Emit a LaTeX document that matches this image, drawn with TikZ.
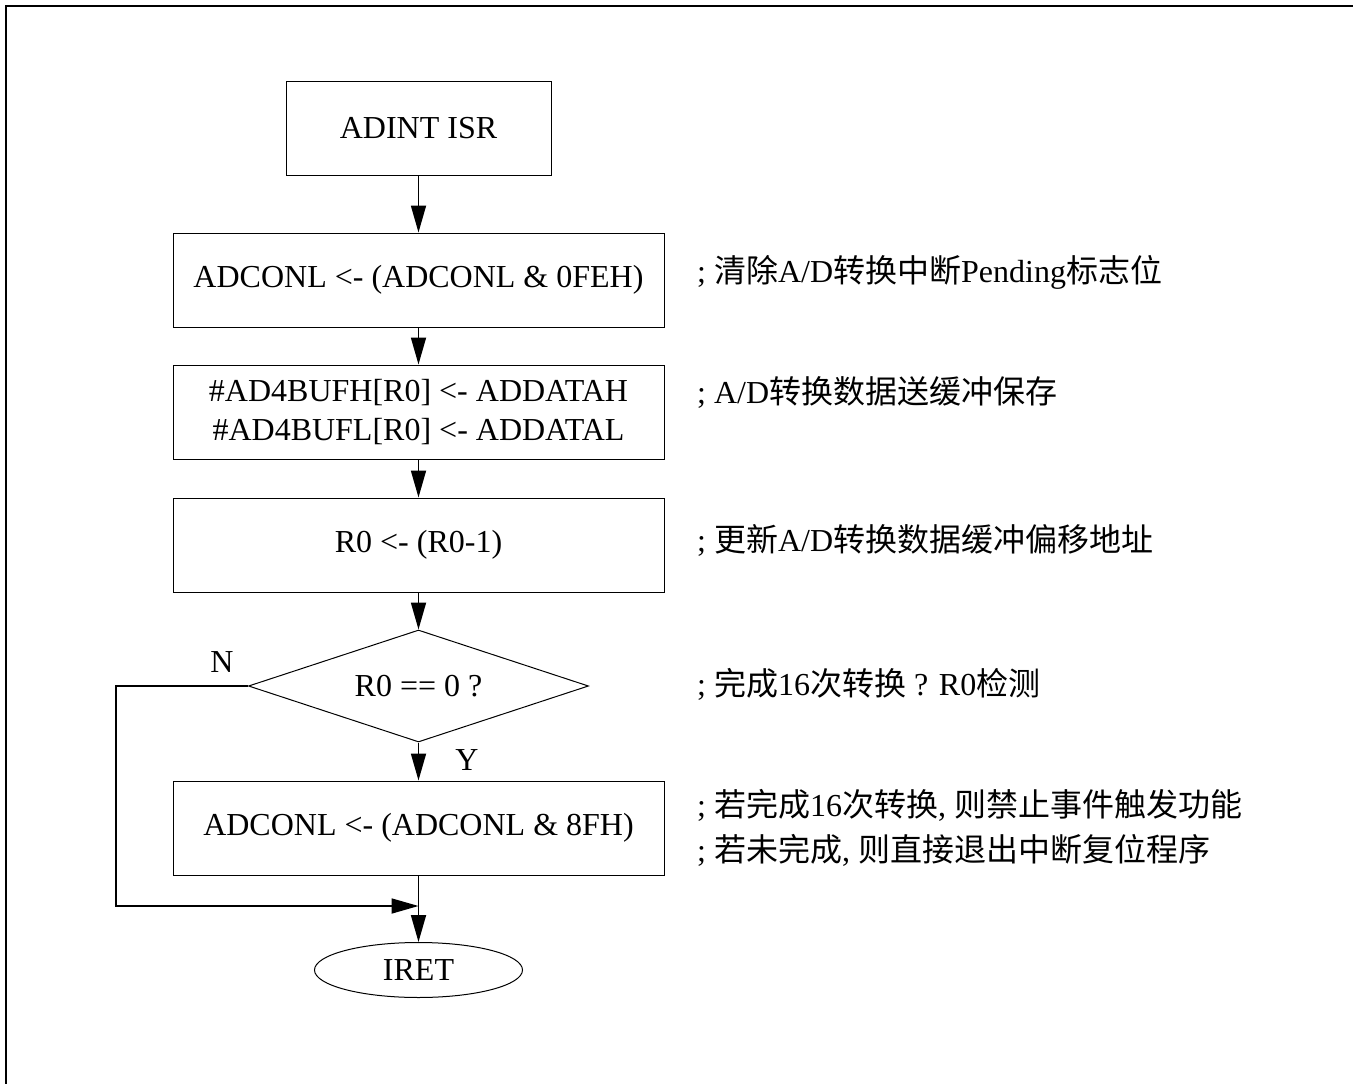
\documentclass[tikz,border=0pt]{standalone}
\usepackage{fontspec}
\setmainfont{Liberation Serif}
\newfontfamily\cjkfont{Noto Sans CJK SC}
\usepackage{tikz}
\usetikzlibrary{shapes.geometric,arrows.meta,positioning}
\newcommand{\zh}[1]{{\cjkfont #1}}
\tikzset{
    procbox/.style={draw, line width=1pt, minimum width=491pt, minimum height=94pt, inner sep=0pt, align=center},
    decbox/.style={draw, diamond, aspect=3, line width=1pt, minimum width=340pt, minimum height=112pt, inner sep=0pt},
    endbox/.style={draw, ellipse, line width=1pt, minimum width=208pt, minimum height=55pt, inner sep=0pt},
    note/.style={anchor=west, align=left, inner sep=0pt},
    flow/.style={line width=1.8pt, -{Triangle[length=27pt, width=15pt]}},
}
\begin{document}
\begin{tikzpicture}[x=1pt, y=-1pt, every node/.style={font=\fontsize{32}{39}\selectfont}]
    \useasboundingbox[fill=white] (0,0) rectangle (1353,1084);
    % Frame
    \draw[line width=2pt] (1353,6) -- (6,6) -- (6,1084);

    % Flow boxes
    \node[procbox, minimum width=265pt] (isr) at (418.5,128) {ADINT ISR};
    \node[procbox] (clr) at (418.5,280) {ADCONL <- (ADCONL \& 0FEH)};
    \node[procbox] (save) at (418.5,412) {\#AD4BUFH[R0] <- ADDATAH\\\#AD4BUFL[R0] <- ADDATAL};
    \node[procbox] (dec) at (418.5,545) {R0 <- (R0-1)};
    \node[decbox] (test) at (418.5,686) {R0 == 0 ?};
    \node[procbox] (dis) at (418.5,828) {ADCONL <- (ADCONL \& 8FH)};
    \node[endbox] (iret) at (418.5,970) {IRET};
    \coordinate (join) at (418.5,906);
    \coordinate (nleft) at (116,906);

    % Connectors
    \draw[flow] (isr) -- (clr);
    \draw[flow] (clr) -- (save);
    \draw[flow] (save) -- (dec);
    \draw[flow] (dec) -- (test);
    \draw[flow] (test) -- (dis);
    \draw[flow] (dis) -- (iret);
    \draw[flow] (test.west) -| (nleft) -- (join);
    \node (ylab) at (467,760) {Y};
    \node (nlab) at (222,662) {N};

    % Comments
    \node[note] (c1) at (697,272) {; \zh{清除}A/D\zh{转换中断}Pending\zh{标志位}};
    \node[note] (c2) at (697,392) {; A/D\zh{转换数据送缓冲保存}};
    \node[note] (c3) at (697,540) {; \zh{更新}A/D\zh{转换数据缓冲偏移地址}};
    \node[note] (c4) at (697,684) {; \zh{完成}16\zh{次转换} ? R0\zh{检测}};
    \node[note, font=\fontsize{32}{45}\selectfont] (c5) at (697,828)
        {; \zh{若完成}16\zh{次转换}, \zh{则禁止事件触发功能}\\; \zh{若未完成}, \zh{则直接退出中断复位程序}};
\end{tikzpicture}
\end{document}
